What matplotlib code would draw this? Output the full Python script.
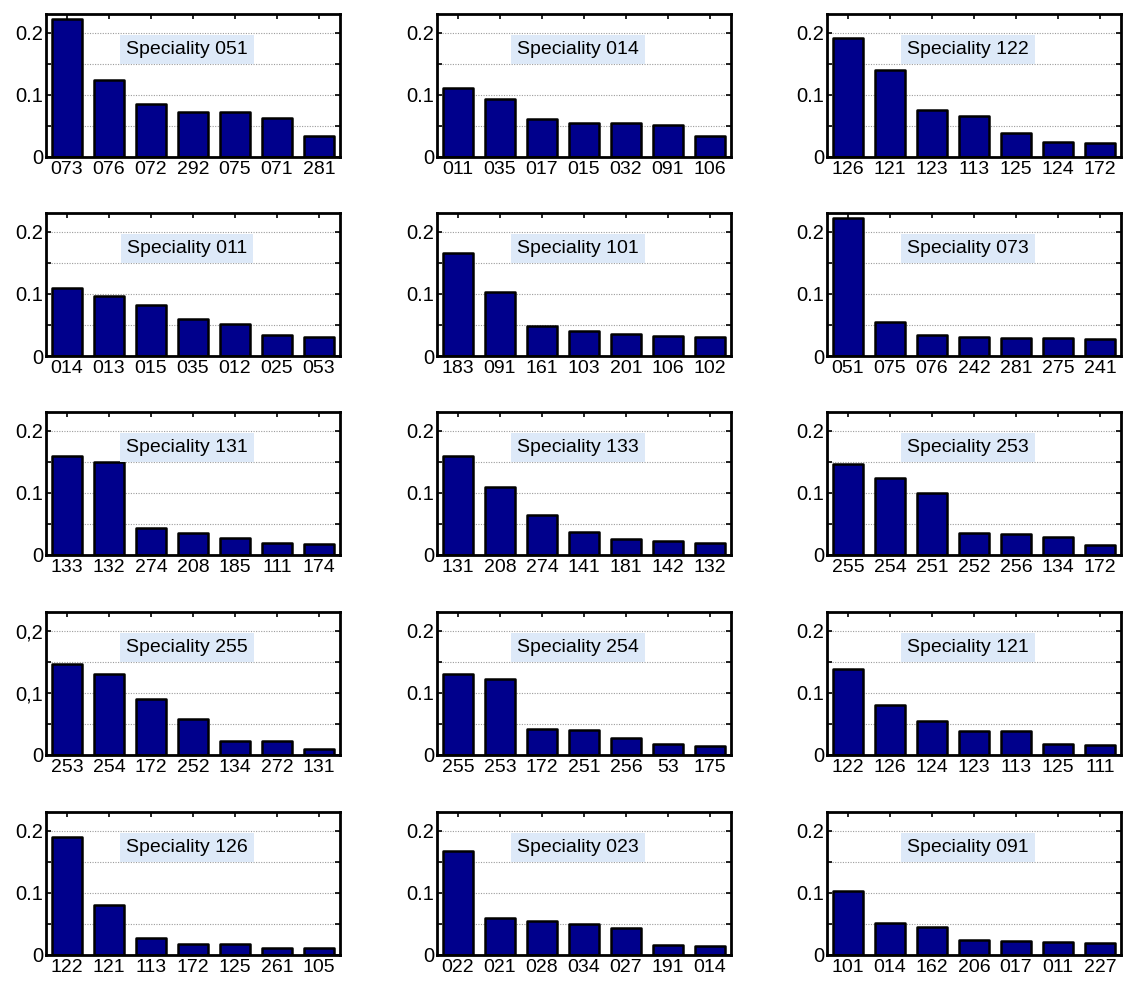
import matplotlib
matplotlib.use("Agg")
import matplotlib.pyplot as plt
from matplotlib.ticker import FixedLocator, FixedFormatter

plt.rcParams["font.family"] = ["Liberation Sans", "DejaVu Sans"]

# Speciality codes shown in each panel title (row-major, 5 rows x 3 columns)
specialities = [
    "051", "014", "122",
    "011", "101", "073",
    "131", "133", "253",
    "255", "254", "121",
    "126", "023", "091",
]

# Related specialities (x tick labels) for each panel
labels_051 = ["073", "076", "072", "292", "075", "071", "281"]
labels_014 = ["011", "035", "017", "015", "032", "091", "106"]
labels_122 = ["126", "121", "123", "113", "125", "124", "172"]
labels_011 = ["014", "013", "015", "035", "012", "025", "053"]
labels_101 = ["183", "091", "161", "103", "201", "106", "102"]
labels_073 = ["051", "075", "076", "242", "281", "275", "241"]
labels_131 = ["133", "132", "274", "208", "185", "111", "174"]
labels_133 = ["131", "208", "274", "141", "181", "142", "132"]
labels_253 = ["255", "254", "251", "252", "256", "134", "172"]
labels_255 = ["253", "254", "172", "252", "134", "272", "131"]
labels_254 = ["255", "253", "172", "251", "256", "53", "175"]
labels_121 = ["122", "126", "124", "123", "113", "125", "111"]
labels_126 = ["122", "121", "113", "172", "125", "261", "105"]
labels_023 = ["022", "021", "028", "034", "027", "191", "014"]
labels_091 = ["101", "014", "162", "206", "017", "011", "227"]

# Proximity values for each related speciality
values_051 = [0.222, 0.124, 0.085, 0.073, 0.072, 0.062, 0.034]
values_014 = [0.111, 0.093, 0.061, 0.055, 0.054, 0.052, 0.033]
values_122 = [0.191, 0.140, 0.075, 0.066, 0.039, 0.024, 0.022]
values_011 = [0.110, 0.097, 0.082, 0.060, 0.051, 0.033, 0.030]
values_101 = [0.165, 0.103, 0.048, 0.040, 0.036, 0.032, 0.030]
values_073 = [0.222, 0.055, 0.034, 0.031, 0.029, 0.029, 0.027]
values_131 = [0.159, 0.149, 0.043, 0.035, 0.028, 0.019, 0.017]
values_133 = [0.159, 0.110, 0.064, 0.037, 0.025, 0.022, 0.019]
values_253 = [0.147, 0.124, 0.100, 0.035, 0.034, 0.029, 0.016]
values_255 = [0.146, 0.131, 0.090, 0.058, 0.023, 0.023, 0.009]
values_254 = [0.131, 0.123, 0.042, 0.041, 0.027, 0.017, 0.015]
values_121 = [0.139, 0.080, 0.055, 0.039, 0.038, 0.018, 0.016]
values_126 = [0.190, 0.080, 0.027, 0.018, 0.018, 0.012, 0.011]
values_023 = [0.167, 0.059, 0.054, 0.050, 0.043, 0.016, 0.015]
values_091 = [0.103, 0.052, 0.045, 0.024, 0.023, 0.021, 0.020]

all_labels = [labels_051, labels_014, labels_122, labels_011, labels_101,
              labels_073, labels_131, labels_133, labels_253, labels_255,
              labels_254, labels_121, labels_126, labels_023, labels_091]
all_values = [values_051, values_014, values_122, values_011, values_101,
              values_073, values_131, values_133, values_253, values_255,
              values_254, values_121, values_126, values_023, values_091]

# Panel using comma as decimal separator
comma_panels = {"255"}

W, H = 1123, 981
fig = plt.figure(figsize=(W / 100, H / 100), dpi=100)

col_left = [46, 437, 827]
ax_w = 294
row_top = [14, 213, 412, 612, 812]
ax_h = 143

bar_color = "#00008c"

for idx, (spec, labs, vals) in enumerate(zip(specialities, all_labels, all_values)):
    r, c = divmod(idx, 3)
    left = col_left[c] / W
    bottom = 1 - (row_top[r] + ax_h) / H
    ax = fig.add_axes([left, bottom, ax_w / W, ax_h / H])
    x = list(range(1, len(vals) + 1))
    ax.bar(x, vals, width=0.72, color=bar_color, edgecolor="black",
           linewidth=1.8, zorder=3, joinstyle="round")
    ax.set_xlim(0.5, len(vals) + 0.5)
    ax.set_ylim(0, 0.23)

    ax.set_xticks(x)
    ax.set_xticklabels(labs, fontsize=14)
    ax.yaxis.set_major_locator(FixedLocator([0, 0.1, 0.2]))
    if spec in comma_panels:
        ax.yaxis.set_major_formatter(FixedFormatter(["0", "0,1", "0,2"]))
    else:
        ax.yaxis.set_major_formatter(FixedFormatter(["0", "0.1", "0.2"]))
    ax.yaxis.set_minor_locator(FixedLocator([0.05, 0.15]))
    ax.tick_params(axis="y", labelsize=14.5)
    ax.tick_params(which="both", direction="in", length=3.5, width=1.2,
                   top=True, right=True, pad=2)
    ax.tick_params(axis="x", bottom=False, pad=3)

    ax.grid(True, which="both", axis="y", linestyle=(0, (1, 1.3)),
            color="#9c9c9c", linewidth=0.8, zorder=0)
    ax.set_axisbelow(True)
    for s in ax.spines.values():
        s.set_linewidth(2.0)
        s.set_zorder(5)

    ax.text(0.48, 0.75, f"Speciality {spec}", transform=ax.transAxes,
            ha="center", va="center", fontsize=14, zorder=6,
            bbox=dict(boxstyle="square,pad=0.3", facecolor="#dde9f8",
                      edgecolor="none"))

fig.savefig("out.png", dpi=100)
